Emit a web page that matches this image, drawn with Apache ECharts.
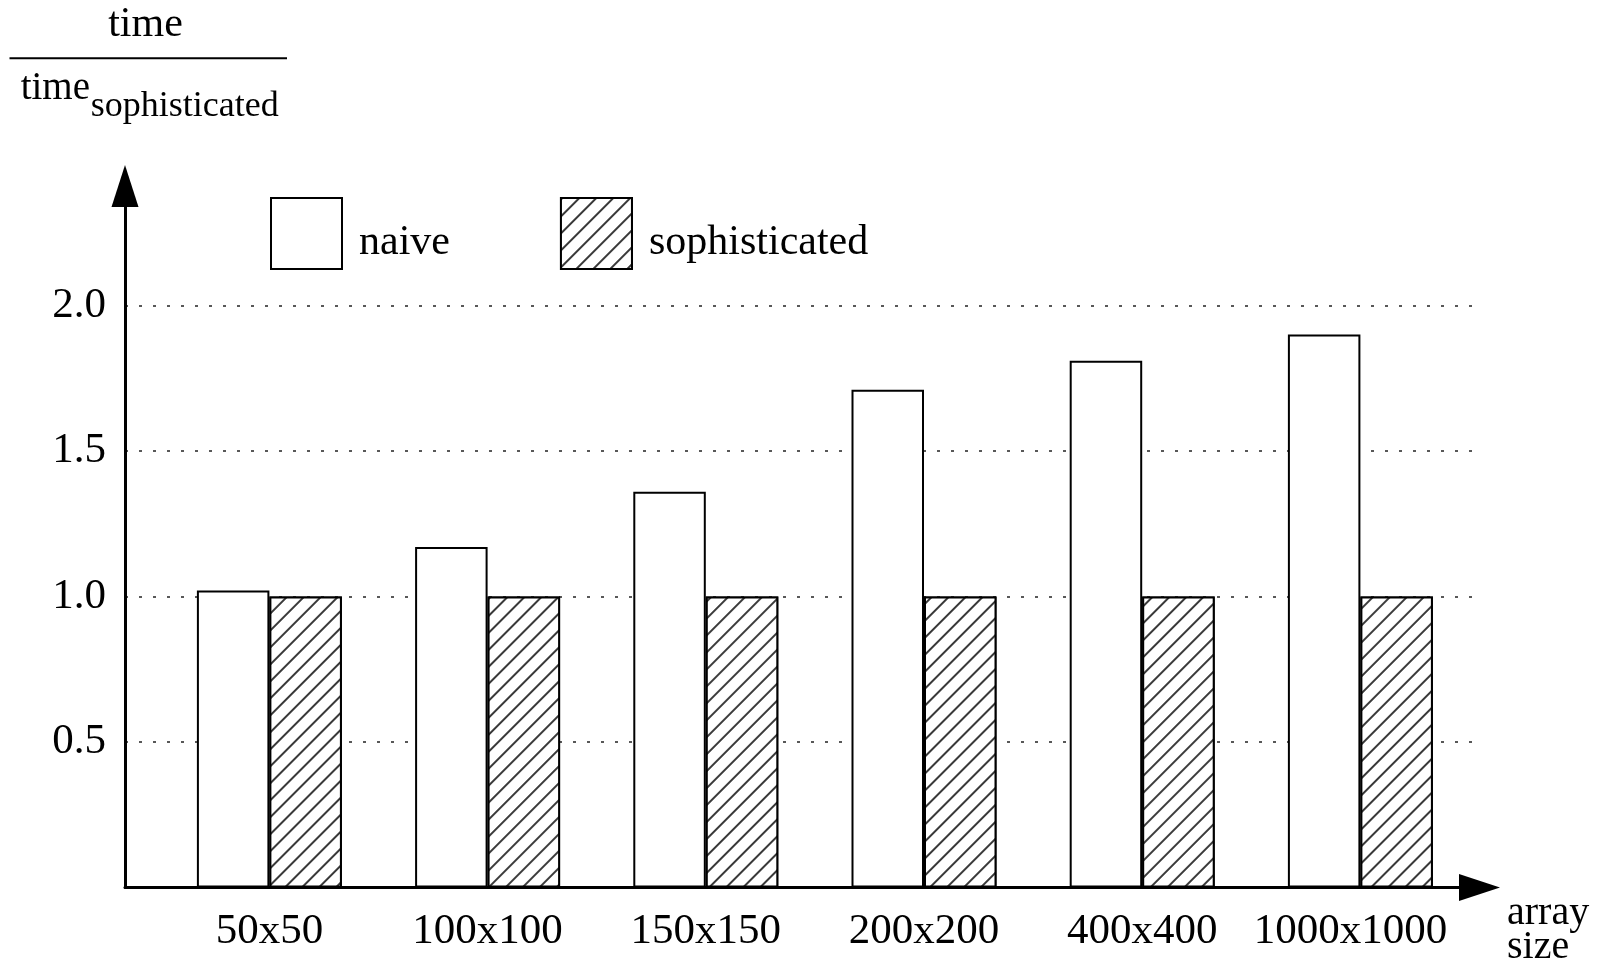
<!DOCTYPE html>
<html>
<head>
<meta charset="utf-8">
<script src="https://cdn.jsdelivr.net/npm/echarts@6/dist/echarts.min.js"></script>
<style>
html,body{margin:0;padding:0;background:#fff;}
#c{width:1603px;height:972px;}
</style>
</head>
<body>
<div id="c"></div>
<script>
var categories = ['50x50', '100x100', '150x150', '200x200', '400x400', '1000x1000'];
var naive = [1.02, 1.17, 1.36, 1.71, 1.81, 1.90];
var sophisticated = [1.0, 1.0, 1.0, 1.0, 1.0, 1.0];
var yTickValues = [0.5, 1.0, 1.5, 2.0];
var yTickLabels = ['0.5', '1.0', '1.5', '2.0'];
var seriesNames = ['naive', 'sophisticated'];

var FONT = 'Liberation Serif';
var YMAX = 2.41;
var chart = echarts.init(document.getElementById('c'), null, {renderer: 'canvas'});

var hatch = {
  symbol: 'rect',
  symbolSize: 1,
  dashArrayX: [1, 0],
  dashArrayY: [1.2, 9.2],
  rotation: -Math.PI / 4,
  color: '#3a3a3a',
  backgroundColor: '#fff'
};

var option = {
  backgroundColor: '#fff',
  animation: false,
  textStyle: {fontFamily: FONT, color: '#000'},
  legend: {
    left: 270,
    top: 197,
    padding: 0,
    itemWidth: 71,
    itemHeight: 71,
    itemGap: 110,
    icon: 'rect',
    data: seriesNames,
    formatter: '{t|{name}}',
    textStyle: {
      fontFamily: FONT, fontSize: 42, color: '#000', padding: [0, 0, 0, 12],
      rich: {t: {fontFamily: FONT, fontSize: 42, color: '#000', lineHeight: 60, verticalAlign: 'bottom'}}
    }
  },
  grid: [
    {left: 125, right: 123.5, top: 186, bottom: 84.5},
    {left: 125, right: 130, top: 186, bottom: 84.5},
    {left: 160.3, right: 133.5, top: 186, bottom: 84.5}
  ],
  xAxis: [
    {
      gridIndex: 0, type: 'value', min: 0, max: 1,
      axisLine: {show: true, symbol: ['none', 'triangle'], symbolSize: [27, 41],
                 lineStyle: {color: '#000', width: 3}},
      axisTick: {show: false}, axisLabel: {show: false}, splitLine: {show: false}
    },
    {gridIndex: 1, type: 'value', min: 0, max: 1, show: false},
    {
      gridIndex: 2, type: 'category', data: categories,
      axisLine: {show: false}, axisTick: {show: false}, splitLine: {show: false},
      axisLabel: {
        fontFamily: FONT, fontSize: 43, color: '#000', margin: 23, interval: 0,
        formatter: function (v, i) {
          return i === categories.length - 1 ? '{last|' + v + '}' : v;
        },
        rich: {last: {fontFamily: FONT, fontSize: 43, color: '#000', padding: [0, 20, 0, 0]}}
      }
    }
  ],
  yAxis: [
    {gridIndex: 0, type: 'value', min: 0, max: YMAX, show: false},
    {
      gridIndex: 1, type: 'value', min: 0, max: YMAX, interval: 0.5,
      axisLine: {show: true, symbol: ['none', 'triangle'], symbolSize: [27, 42],
                 lineStyle: {color: '#000', width: 3}},
      axisTick: {show: false},
      axisLabel: {
        fontFamily: FONT, fontSize: 43, color: '#000', margin: 19,
        padding: [10, 0, 0, 0],
        showMinLabel: false, showMaxLabel: false,
        formatter: function (v) {
          for (var i = 0; i < yTickValues.length; i++) {
            if (Math.abs(yTickValues[i] - v) < 1e-6) return yTickLabels[i];
          }
          return '';
        }
      },
      splitLine: {
        show: true, showMinLine: false, showMaxLine: false,
        lineStyle: {color: '#222', width: 1.5, type: [3, 11]}
      }
    },
    {gridIndex: 2, type: 'value', min: 0, max: YMAX, show: false}
  ],
  series: [
    {
      name: seriesNames[0], type: 'bar', xAxisIndex: 2, yAxisIndex: 2,
      data: naive, barWidth: 72.5, barGap: '0%',
      itemStyle: {color: '#fff', borderColor: '#000', borderWidth: 2}
    },
    {
      name: seriesNames[1], type: 'bar', xAxisIndex: 2, yAxisIndex: 2,
      data: sophisticated, barWidth: 72.5, barGap: '0%',
      itemStyle: {color: '#fff', borderColor: '#000', borderWidth: 2, decal: hatch}
    }
  ],
  graphic: [
    {
      type: 'text', x: 145.5, y: 25, silent: true,
      style: {text: 'time', font: '42px "Liberation Serif"', fill: '#000', align: 'center', verticalAlign: 'middle'}
    },
    {
      type: 'line', silent: true,
      shape: {x1: 9.5, y1: 58.3, x2: 287, y2: 58.3},
      style: {stroke: '#000', lineWidth: 2}
    },
    {
      type: 'text', x: 20.7, y: 89, silent: true,
      style: {text: 'time', font: '39px "Liberation Serif"', fill: '#000', align: 'left', verticalAlign: 'middle'}
    },
    {
      type: 'text', x: 90.7, y: 106.5, silent: true,
      style: {text: 'sophisticated', font: '36px "Liberation Serif"', fill: '#000', align: 'left', verticalAlign: 'middle'}
    },
    {
      type: 'text', x: 1507, y: 896, silent: true,
      style: {text: 'array\nsize', font: '40px "Liberation Serif"', lineHeight: 34, fill: '#000', align: 'left', verticalAlign: 'top'}
    }
  ]
};
chart.setOption(option);
</script>
</body>
</html>
